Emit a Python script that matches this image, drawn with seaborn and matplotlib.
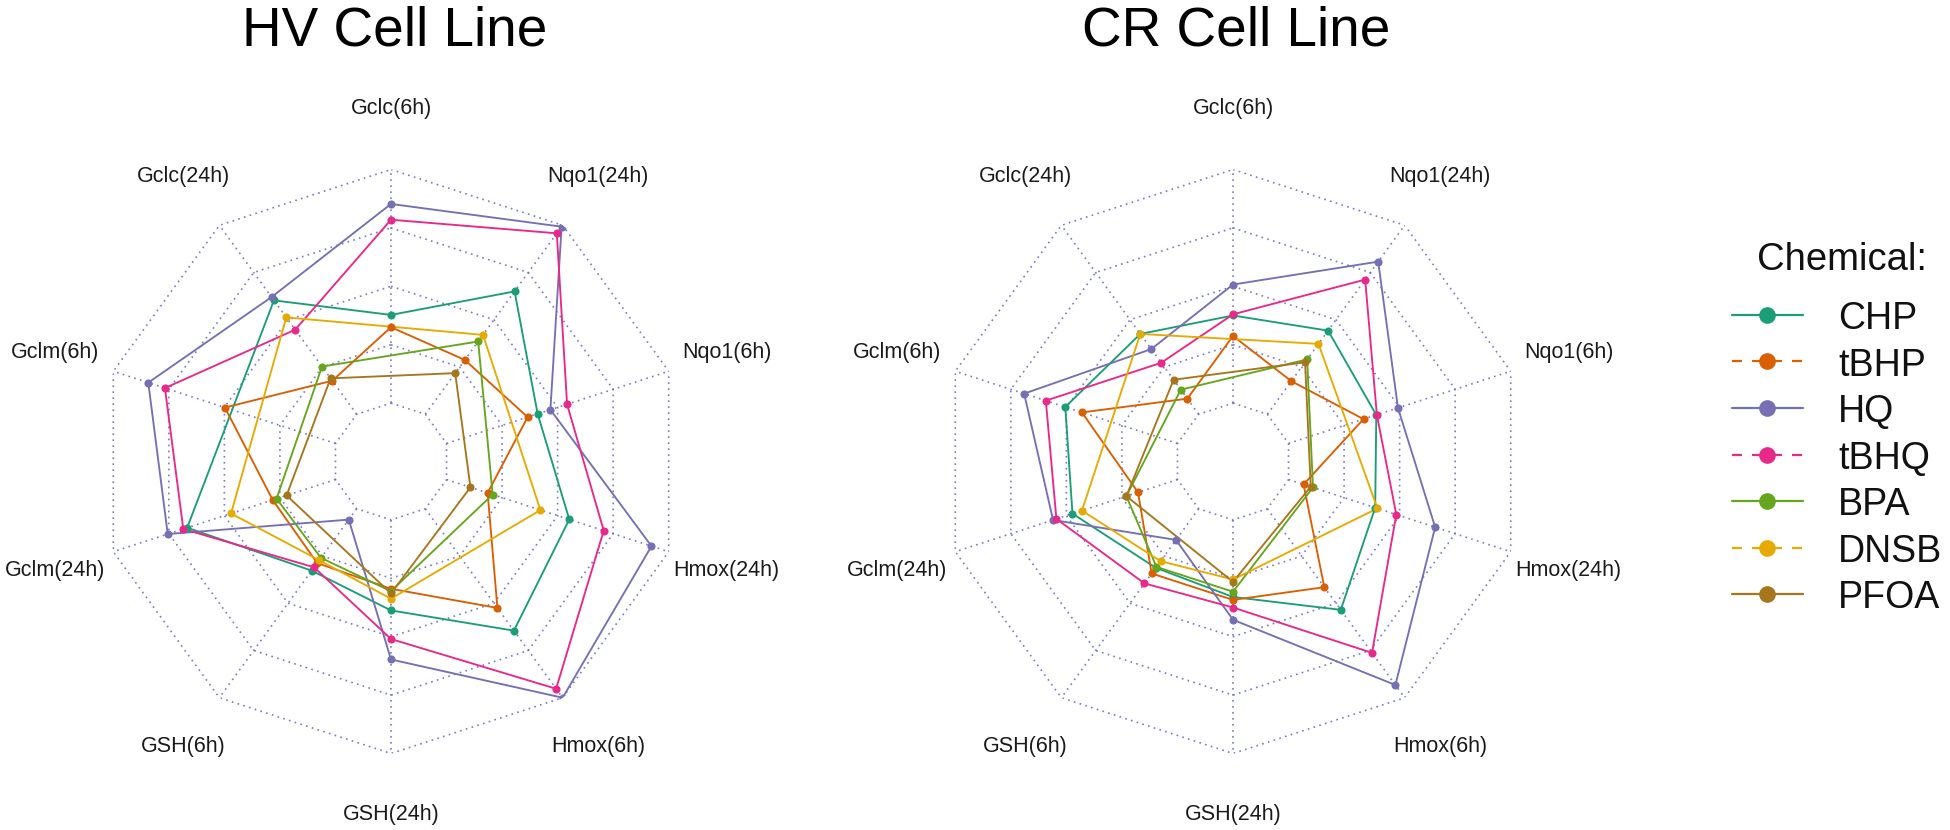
# Radar charts of gene response per chemical for two cell lines.
import numpy as np
import pandas as pd
import matplotlib.pyplot as plt
import seaborn as sns

# Axis names, going clockwise from the top.
axis_labels = ["Gclc(6h)", "Nqo1(24h)", "Nqo1(6h)", "Hmox(24h)", "Hmox(6h)",
               "GSH(24h)", "GSH(6h)", "Gclm(24h)", "Gclm(6h)", "Gclc(24h)"]

chemicals = ["CHP", "tBHP", "HQ", "tBHQ", "BPA", "DNSB", "PFOA"]
colors = ["#1B9E77", "#D95F02", "#7570B3", "#E7298A", "#66A61E", "#E6AB02", "#A6761D"]
dashed = [False, True, False, True, False, True, False]  # legend key style

nan = np.nan

# HV cell line scores (grid rings at 1..5, nan = not measured).
hv_chp = [2.51, 3.60, 2.64, 3.21, 3.58, 2.55, 2.31, 3.67, nan, 3.41]
hv_tbhp = [2.30, 2.15, 2.46, 1.74, 3.10, 2.18, 2.15, 2.13, 2.99, 1.71]
hv_hq = [4.41, 4.97, 2.87, 4.69, 5.00, 3.39, 1.23, 4.02, 4.37, 3.48]
hv_tbhq = [4.14, 4.83, 3.17, 3.83, 4.81, 3.04, 2.24, 3.74, 4.07, 2.79]
hv_bpa = [nan, 2.54, nan, 1.83, nan, 2.22, 2.04, 2.06, nan, 2.01]
hv_dnsb = [nan, 2.68, nan, 2.69, nan, 2.35, 2.09, 2.88, nan, 3.05]
hv_pfoa = [nan, 1.87, nan, 1.43, nan, 2.26, nan, 1.88, nan, 1.76]

# CR cell line scores.
cr_chp = [2.50, 2.77, 2.58, 2.56, 3.14, 2.32, 2.25, 2.89, 3.02, 2.70]
cr_tbhp = [2.15, 1.70, 2.35, 1.27, 2.66, 2.37, 2.37, 1.71, 2.72, 1.33]
cr_hq = [3.03, 4.23, 2.97, 3.64, 4.73, 2.71, 1.66, 3.24, 3.76, 2.38]
cr_tbhq = [2.52, 3.85, 2.59, 2.94, 4.05, 2.50, 2.58, 3.18, 3.37, 2.09]
cr_bpa = [nan, 2.16, nan, 1.44, nan, 2.23, 2.23, 1.92, nan, 1.52]
cr_dnsb = [nan, 2.49, nan, 2.60, nan, 2.02, 2.11, 2.72, nan, 2.70]
cr_pfoa = [nan, 2.10, nan, 1.40, nan, 2.06, nan, 1.92, nan, 1.73]

hv_values = [hv_chp, hv_tbhp, hv_hq, hv_tbhq, hv_bpa, hv_dnsb, hv_pfoa]
cr_values = [cr_chp, cr_tbhp, cr_hq, cr_tbhq, cr_bpa, cr_dnsb, cr_pfoa]

sns.set_theme(style="white")
plt.rcParams["font.family"] = ["Liberation Sans", "DejaVu Sans"]
plt.rcParams["text.color"] = "black"

grid_color = "#6262C6"
theta = np.arange(len(axis_labels)) * 2 * np.pi / len(axis_labels)


def draw_radar(ax, values):
    ax.set_theta_zero_location("N")
    ax.set_theta_direction(-1)
    ax.grid(False)
    ax.spines["polar"].set_visible(False)
    ax.set_xticks([])
    ax.set_yticks([])
    ax.patch.set_alpha(0)

    # Dotted decagon rings and the spokes between inner and outer ring.
    ring_theta = np.append(theta, theta[0])
    for k in range(1, 6):
        ax.plot(ring_theta, [k] * len(ring_theta), color=grid_color, lw=1.2,
                ls=(0, (1, 2.6)), alpha=0.85, zorder=1)
    for t in theta:
        ax.plot([t, t], [1, 5], color=grid_color, lw=1.2, ls=(0, (1, 2.6)),
                alpha=0.85, zorder=1)

    # One polygon per chemical; missing axes are skipped by the line.
    for chem, col, vals in zip(chemicals, colors, values):
        df = pd.DataFrame({"theta": theta, "value": vals}).dropna()
        closed = pd.concat([df, df.iloc[[0]].assign(theta=df["theta"].iloc[0] + 2 * np.pi)])
        sns.lineplot(x=closed["theta"].to_numpy(), y=closed["value"].to_numpy(),
                     sort=False, estimator=None, color=col, lw=1.35, ax=ax, zorder=3)
        sns.scatterplot(x=df["theta"].to_numpy(), y=df["value"].to_numpy(), color=col,
                        s=34, linewidth=0, ax=ax, zorder=4)

    ax.set_ylim(0, 5)
    ax.set_xlabel("")
    ax.set_ylabel("")

    for t, lab in zip(theta, axis_labels):
        ax.text(t, 6.04, lab, ha="center", va="center", fontsize=15.5, color="#1a1a1a")


fig = plt.figure(figsize=(19.5, 8.3), dpi=100)

ax_hv = fig.add_axes([99 / 1950, 76.5 / 830, 584 / 1950, 584 / 830], projection="polar")
ax_cr = fig.add_axes([941 / 1950, 76.5 / 830, 584 / 1950, 584 / 830], projection="polar")
draw_radar(ax_hv, hv_values)
draw_radar(ax_cr, cr_values)

fig.text(395 / 1950, 1 - 46 / 830, "HV Cell Line", ha="center", va="baseline",
         fontsize=39.5, color="black")
fig.text(1236 / 1950, 1 - 46 / 830, "CR Cell Line", ha="center", va="baseline",
         fontsize=39.5, color="black")

# Legend drawn on an overlay axes in pixel units.
leg = fig.add_axes([0, 0, 1, 1])
leg.set_xlim(0, 1950)
leg.set_ylim(830, 0)
leg.axis("off")
leg.text(1757, 270, "Chemical:", fontsize=27.5, va="baseline", ha="left", color="#111111")
for i, (chem, col, ds) in enumerate(zip(chemicals, colors, dashed)):
    y = 315 + i * 46.5
    ls = (0, (4.5, 4.5)) if ds else "-"
    leg.plot([1732, 1803], [y, y], color=col, lw=1.6, ls=ls)
    leg.plot([1767], [y], "o", color=col, ms=12, mew=0)
    leg.text(1838, y + 14, chem, fontsize=27, va="baseline", ha="left", color="#111111")

fig.savefig("out.png", dpi=100)
